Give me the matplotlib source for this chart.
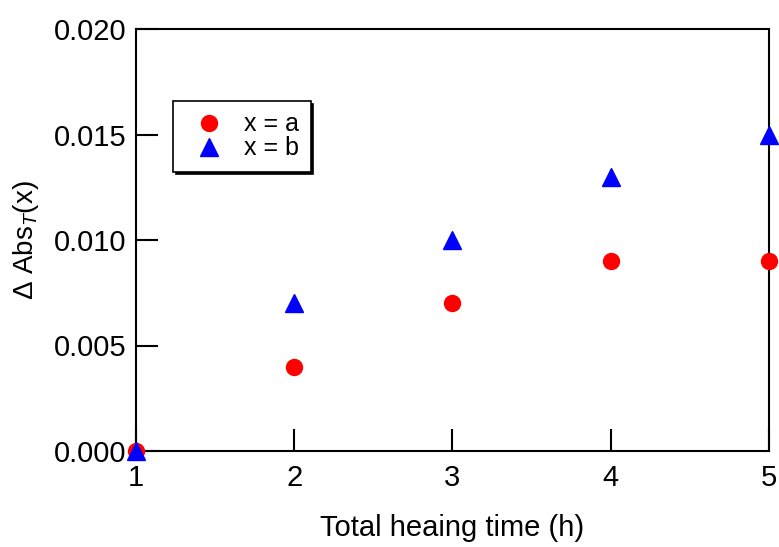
import matplotlib
matplotlib.use("Agg")
import matplotlib.pyplot as plt

plt.rcParams['font.family'] = ['Liberation Sans', 'DejaVu Sans']
plt.rcParams['mathtext.fontset'] = 'custom'
plt.rcParams['mathtext.it'] = 'Liberation Sans:italic'
plt.rcParams['mathtext.rm'] = 'Liberation Sans'

time_h = [1, 2, 3, 4, 5]
series_a = [0.0, 0.004, 0.007, 0.009, 0.009]
series_b = [0.0, 0.007, 0.010, 0.013, 0.015]
label_a = "x = a"
label_b = "x = b"
x_ticks = [1, 2, 3, 4, 5]
y_ticks = [0.000, 0.005, 0.010, 0.015, 0.020]

fig = plt.figure(figsize=(7.79, 5.47), dpi=100)
ax = fig.add_axes([136/779, 1 - 451/547, (769-136)/779, (451-29)/547])

ax.plot(time_h, series_a, 'o', color='#ff0000', markersize=11.5, linestyle='none',
        label=label_a, clip_on=False, zorder=5)
ax.plot(time_h, series_b, '^', color='#0000ff', markersize=12.5, linestyle='none',
        label=label_b, clip_on=False, zorder=6)

ax.set_xlim(1, 5)
ax.set_ylim(0, 0.020)
ax.set_xticks(x_ticks)
ax.set_yticks(y_ticks)
ax.set_yticklabels([f"{v:.3f}" for v in y_ticks])
ax.tick_params(direction='in', length=16, width=1.5, labelsize=21, top=False, right=False)
ax.tick_params(axis='x', pad=9)
ax.tick_params(axis='y', pad=7)
for s in ax.spines.values():
    s.set_linewidth(1.5)

ax.set_xlabel("Total heaing time (h)", fontsize=21, labelpad=16)
ax.set_ylabel(r"$\Delta$ Abs$_T$(x)", fontsize=20, labelpad=9)

leg = ax.legend(loc='upper left', bbox_to_anchor=(37/633, 1 - 72/422), frameon=True,
                fancybox=False, shadow={'color': 'black', 'alpha': 1.0}, fontsize=18,
                borderpad=0.45, handletextpad=0.4, labelspacing=0.0, handlelength=2.0,
                borderaxespad=0)
leg.get_frame().set_edgecolor('black')
leg.get_frame().set_linewidth(1.2)

fig.savefig("out.png", dpi=100)
